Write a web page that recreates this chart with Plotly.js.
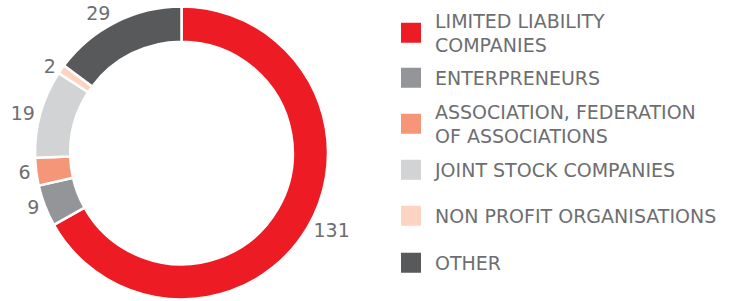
<!DOCTYPE html>
<html>
<head>
<meta charset="utf-8">
<script src="https://cdn.plot.ly/plotly-3.0.1.min.js"></script>
<style>html,body{margin:0;padding:0;background:#fff}#chart{width:753px;height:301px}</style>
</head>
<body>
<div id="chart"></div>
<script>
// ---- data ----
var categories = ["LIMITED LIABILITY COMPANIES", "ENTERPRENEURS", "ASSOCIATION, FEDERATION OF ASSOCIATIONS", "JOINT STOCK COMPANIES", "NON PROFIT ORGANISATIONS", "OTHER"];
var legendLabels = ["LIMITED LIABILITY<br>COMPANIES", "ENTERPRENEURS", "ASSOCIATION, FEDERATION<br>OF ASSOCIATIONS", "JOINT STOCK COMPANIES", "NON PROFIT ORGANISATIONS", "OTHER"];
var values = [131, 9, 6, 19, 2, 29];
var colors = ["#ED1C24", "#939598", "#F69679", "#D1D3D4", "#FDD3C1", "#58595B"];

// ---- layout constants ----
var W = 753, H = 301;
var textColor = "#6D6E71";
var fontFamily = "'DejaVu Sans', sans-serif";
var legendCentersPx = [33, 78, 124, 170, 216, 263];

var traces = [{
  type: "pie",
  labels: categories,
  values: values,
  sort: false,
  direction: "clockwise",
  rotation: 0,
  hole: 0.76,
  marker: {colors: colors, line: {color: "#ffffff", width: 2.5}},
  textinfo: "value",
  textposition: "outside",
  outsidetextfont: {family: fontFamily, size: 19, color: textColor},
  domain: {x: [35 / W, 328 / W], y: [1 - 299.5 / H, 1 - 6.5 / H]},
  showlegend: false,
  hoverinfo: "none"
}];

var layout = {
  width: W, height: H,
  margin: {l: 0, r: 0, t: 0, b: 0},
  paper_bgcolor: "#ffffff",
  plot_bgcolor: "#ffffff",
  xaxis: {visible: false},
  yaxis: {visible: false},
  showlegend: true
};

for (var i = 0; i < categories.length; i++) {
  var key = i === 0 ? "legend" : "legend" + (i + 1);
  traces.push({
    type: "scatter",
    mode: "markers",
    x: [null], y: [null],
    name: legendLabels[i],
    legend: key,
    marker: {symbol: "square", size: 16, color: colors[i], line: {color: colors[i], width: 4}},
    hoverinfo: "none"
  });
  layout[key] = {
    x: 387 / W, xanchor: "left",
    y: 1 - legendCentersPx[i] / H, yanchor: "middle",
    bgcolor: "rgba(0,0,0,0)",
    borderwidth: 0,
    itemwidth: 38,
    valign: "middle",
    font: {family: fontFamily, size: 19, color: textColor}
  };
}

Plotly.newPlot("chart", traces, layout, {staticPlot: true, displayModeBar: false});
</script>
</body>
</html>
